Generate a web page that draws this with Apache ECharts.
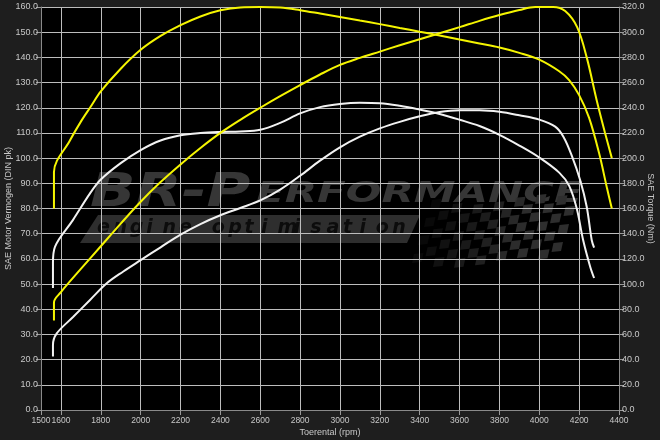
<!DOCTYPE html>
<html>
<head>
<meta charset="utf-8">
<script src="https://cdn.jsdelivr.net/npm/echarts@6/dist/echarts.min.js"></script>
<style>html,body{margin:0;padding:0;background:#1e1e1e}#c{width:660px;height:440px}</style>
</head>
<body>
<div id="c"></div>
<script>
// ---- data (rpm, value) ----
const xTickValues = [1500,1600,1800,2000,2200,2400,2600,2800,3000,3200,3400,3600,3800,4000,4200,4400];
// tuned power (pk, left axis)
const tunedPower = [[1565,35.5],[1565,42.7],[1600,46.8],[1700,56],[1800,65],[1900,74],[2000,82.7],[2100,90.5],[2200,97.5],[2300,104],[2400,110],[2500,115.2],[2600,120],[2700,124.6],[2800,129],[2900,133.2],[3000,137],[3100,139.8],[3200,142.3],[3300,144.8],[3400,147.2],[3500,149.6],[3600,152],[3700,154.5],[3800,156.8],[3900,158.8],[3980,160],[4070,160],[4130,158.4],[4190,152],[4238,140],[4288,123],[4330,110],[4364,100]];
// tuned torque (Nm, right axis)
const tunedTorque = [[1565,160],[1565,189],[1645,214],[1700,229],[1750,241],[1800,253],[1900,271],[2000,286],[2100,297],[2200,305.6],[2300,312.5],[2400,317.4],[2500,319.7],[2600,320],[2700,319.6],[2800,317.5],[2900,314.8],[3000,312],[3100,309.2],[3200,306.4],[3300,303.4],[3400,300.4],[3500,297.4],[3600,294.2],[3700,291],[3800,287.8],[3900,283.6],[4000,278.2],[4100,269],[4150,262],[4200,250],[4250,232],[4300,204],[4340,176],[4364,160]];
// stock power (pk, left axis)
const stockPower = [[1560,21.2],[1560,25.8],[1579,30.4],[1662,37],[1746,43.7],[1830,50.3],[1913,55],[2000,59.5],[2100,64.6],[2200,69.6],[2300,73.8],[2400,77.3],[2500,80.2],[2600,83.2],[2700,87.5],[2800,93],[2900,99],[3000,104.3],[3100,108.5],[3200,111.8],[3300,114.4],[3400,116.6],[3500,118.3],[3600,119],[3700,119],[3800,118.4],[3900,117],[4000,115.3],[4080,112.5],[4121,108.5],[4163,101],[4205,91.3],[4238,80.7],[4263,67.5],[4275,64.5]];
// stock torque (Nm, right axis)
const stockTorque = [[1560,96.8],[1560,116.8],[1570,129.6],[1660,150.8],[1746,172],[1800,183],[1900,196],[2000,206.4],[2100,214],[2200,218.2],[2300,220],[2400,220.8],[2500,221.2],[2600,222.5],[2700,228],[2800,235.5],[2900,240.5],[3000,243],[3100,244],[3200,243.6],[3300,241.5],[3400,238.5],[3500,235],[3600,230.5],[3700,225.5],[3800,218.5],[3900,210],[4000,200.5],[4100,188.5],[4150,178],[4188,160],[4220,135],[4255,114],[4275,104.8]];

const labelColor = '#c8c8c8';
const gridColor = '#bdbdbd';
const font = 'Liberation Sans';
const G = {left:41, right:41, top:7, bottom:30};

// ---- plot background + watermark (decoration, under the grid lines) ----
const wm = [];
wm.push({type:'rect', z:-5, silent:true, shape:{x:G.left, y:G.top, width:660-G.left-G.right, height:440-G.top-G.bottom}, style:{fill:'#000'}});
wm.push({type:'polygon', z:-4, silent:true, shape:{points:[[98,215],[420,215],[407,243],[80,243]]}, style:{fill:'#2e2e2e'}});
const sub = 'engine optimisation';
for (let i=0;i<sub.length;i++){
  wm.push({type:'text', z:-3, silent:true, x:97+i*16.4, y:219, style:{text:sub[i], fill:'#0c0c0c', font:'italic bold 19px "DejaVu Sans"'}});
}
wm.push({type:'text', z:-3, silent:true, x:90, y:171, scaleX:1.3, style:{text:'BR-P', fill:'#363636', font:'italic bold 46px "DejaVu Sans"'}});
wm.push({type:'text', z:-3, silent:true, x:256, y:181, scaleX:1.5, style:{text:'ERFORMANCE', fill:'#363636', font:'italic bold 28px "DejaVu Sans"'}});
for (let r=0;r<7;r++){
  for (let c=0;c<14;c++){
    if ((r+c)%2) continue;
    const x = 432 + c*10.5 - r*3;
    const y = 200 + r*9 + Math.sin(c*0.45)*5;
    const op = Math.min(1, 0.2 + c/12);
    wm.push({type:'polygon', z:-3, silent:true, shape:{points:[[x,y],[x+9.5,y-1],[x+7.5,y+8],[x-2,y+9]]}, style:{fill:'#2e2e2e', opacity:op}});
  }
}

const chart = echarts.init(document.getElementById('c'), null, {renderer:'canvas'});
const lineSeries = (data, color, yIdx) => ({
  type:'line', data, yAxisIndex:yIdx, showSymbol:false, symbol:'none', smooth:0.35, z:5,
  lineStyle:{color, width:2}, itemStyle:{color}
});
chart.setOption({
  backgroundColor:'#1e1e1e',
  animation:false,
  graphic: wm,
  grid:{left:G.left, right:G.right, top:G.top, bottom:G.bottom, show:false, outerBoundsMode:'none', containLabel:false},
  xAxis:{
    type:'value', min:1500, max:4400,
    name:'Toerental (rpm)', nameLocation:'middle', nameGap:18, nameMoveOverlap:false,
    nameTextStyle:{color:labelColor, fontSize:9, fontFamily:font},
    axisLine:{show:true, lineStyle:{color:'#8a8a8a'}},
    axisTick:{show:true, length:5, customValues:xTickValues, lineStyle:{color:'#9a9a9a'}},
    axisLabel:{color:labelColor, fontSize:8.5, fontFamily:font, customValues:xTickValues, margin:6, showMinLabel:true, showMaxLabel:true, hideOverlap:false, interval:0,
      formatter:v=>String(v)},
    splitLine:{show:true, lineStyle:{color:gridColor, width:1}}
  },
  yAxis:[
    {type:'value', min:0, max:160, interval:10, position:'left',
     name:'SAE Motor Vermogen (DIN pk)', nameLocation:'middle', nameGap:28, nameRotate:90, nameMoveOverlap:false,
     nameTextStyle:{color:labelColor, fontSize:9, fontFamily:font},
     axisLine:{show:true, lineStyle:{color:'#8a8a8a'}},
     axisTick:{show:true, length:5, lineStyle:{color:'#9a9a9a'}},
     axisLabel:{color:labelColor, fontSize:9, fontFamily:font, margin:3, formatter:v=>v.toFixed(1)},
     splitLine:{show:true, lineStyle:{color:gridColor, width:1}}},
    {type:'value', min:0, max:320, interval:20, position:'right',
     name:'SAE Torque (Nm)', nameLocation:'middle', nameGap:27, nameRotate:-90, nameMoveOverlap:false,
     nameTextStyle:{color:labelColor, fontSize:9, fontFamily:font},
     axisLine:{show:true, lineStyle:{color:'#8a8a8a'}},
     axisTick:{show:true, length:5, lineStyle:{color:'#9a9a9a'}},
     axisLabel:{color:labelColor, fontSize:9, fontFamily:font, margin:3, formatter:v=>v.toFixed(1)},
     splitLine:{show:false}}
  ],
  series:[
    lineSeries(stockPower, '#f2f2f2', 0),
    lineSeries(stockTorque, '#f2f2f2', 1),
    lineSeries(tunedPower, '#f5f500', 0),
    lineSeries(tunedTorque, '#f5f500', 1)
  ]
});
</script>
</body>
</html>
